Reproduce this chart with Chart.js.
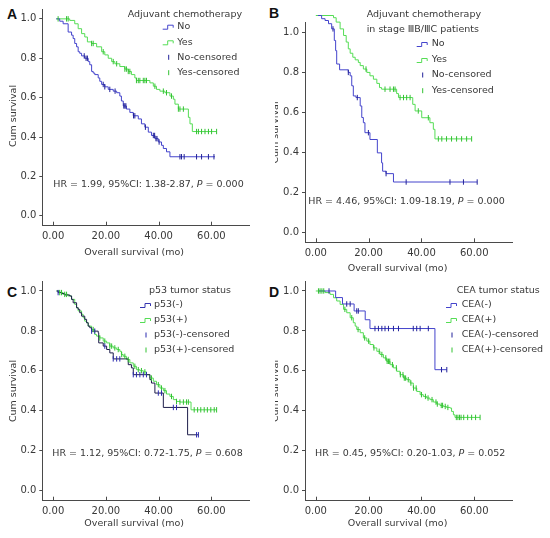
<!DOCTYPE html>
<html>
<head>
<meta charset="utf-8">
<script src="https://cdn.jsdelivr.net/npm/chart.js@4.4.1/dist/chart.umd.min.js"></script>
<style>
  body { margin: 0; width: 550px; height: 538px; overflow: hidden; position: relative; background: #fff; }
  .wrap { position: absolute; overflow: hidden; }
  .wrap canvas { position: absolute; top: 0; }
  .letter { position: absolute; font: bold 14px/14px 'Liberation Sans', Arial, sans-serif; color: #111; }
</style>
</head>
<body>
<div class="letter" style="left:7px;top:6.5px">A</div>
<div class="letter" style="left:269px;top:5.5px">B</div>
<div class="letter" style="left:7px;top:285px">C</div>
<div class="letter" style="left:269px;top:285px">D</div>
<script>
// axes
const xTicks = [0, 20, 40, 60];
const yTicks = [0, 0.2, 0.4, 0.6, 0.8, 1.0];

// A: adjuvant chemotherapy (months / cumulative survival)
const aNoTime = [1.2, 2.5, 3.8, 5.7, 7.0, 7.6, 8.2, 8.9, 9.5, 10.1, 10.8, 12.0, 13.3, 13.9, 14.6, 15.2, 15.8, 17.1, 17.7, 18.4, 19.6, 20.9, 22.8, 24.1, 25.3, 25.9, 26.6, 27.8, 29.1, 30.4, 32.3, 33.5, 34.8, 36.1, 37.3, 38.6, 39.9, 41.1, 41.8, 43.0, 44.3, 61.4];
const aNoSurv = [1, .988, .975, .933, .917, .9, .875, .858, .833, .825, .812, .8, .783, .767, .733, .725, .717, .7, .683, .667, .655, .642, .633, .625, .608, .583, .558, .542, .525, .508, .492, .467, .45, .425, .408, .392, .375, .358, .342, .325, .3, .3];
const aNoCens = [11.8, 12.5, 13.0, 19.0, 19.6, 21.5, 23.5, 26.8, 27.2, 27.6, 30.5, 31.0, 35.0, 38.0, 38.5, 39.0, 39.4, 40.2, 48.1, 48.7, 49.7, 54.4, 56.3, 58.9, 61.0];
const aYesTime = [1.2, 6.3, 8.2, 9.5, 10.8, 12.0, 13.0, 14.6, 16.5, 18.4, 19.6, 20.9, 22.2, 23.4, 25.3, 27.2, 28.5, 29.7, 31.0, 31.6, 36.7, 38.0, 39.2, 40.5, 42.4, 44.3, 45.6, 46.2, 47.5, 51.3, 51.9, 52.8, 62.0];
const aYesSurv = [1, .992, .975, .95, .925, .908, .883, .875, .858, .833, .817, .8, .783, .772, .758, .745, .733, .717, .7, .687, .675, .658, .642, .633, .625, .608, .592, .567, .542, .5, .467, .428, .428];
const aYesCens = [1.9, 5.1, 5.7, 14.6, 15.2, 19.0, 22.8, 24.1, 27.2, 27.8, 28.5, 29.1, 31.6, 32.3, 32.9, 34.2, 34.8, 35.4, 38.6, 41.8, 43.0, 44.9, 47.5, 48.1, 49.4, 54.4, 55.1, 56.3, 57.6, 58.9, 60.1, 62.0];

// B: stage IIIB/IIIC
const bNoTime = [0.8, 2.2, 3.5, 4.8, 6.0, 7.0, 7.5, 7.9, 9.0, 12.3, 13.0, 13.6, 14.2, 15.2, 16.8, 17.4, 18.0, 18.6, 20.5, 23.3, 24.9, 25.3, 26.6, 29.4, 61.1];
const bNoSurv = [1.086, 1.07, 1.061, 1.045, 1.019, .961, .91, .843, .814, .801, .784, .734, .683, .675, .633, .575, .549, .499, .465, .398, .348, .306, .294, .252, .252];
const bNoCens = [6.5, 12.3, 15.7, 19.9, 26.6, 34.2, 50.8, 55.9, 61.1];
const bYesTime = [0, 6.7, 7.7, 9.2, 10.5, 11.5, 12.3, 13.0, 14.0, 14.9, 16.1, 16.8, 18.0, 19.3, 20.5, 21.8, 23.1, 24.1, 24.9, 30.6, 31.3, 36.7, 37.6, 40.1, 43.2, 44.5, 45.1, 59.0];
const bYesSurv = [1.086, 1.075, 1.053, 1.019, .986, .953, .919, .897, .877, .864, .851, .835, .818, .801, .784, .767, .746, .725, .717, .695, .675, .641, .608, .574, .549, .516, .468, .468];
const bYesCens = [2.0, 5.4, 19.0, 26.2, 28.1, 29.4, 30.0, 31.9, 33.2, 34.4, 35.7, 38.8, 42.6, 46.4, 47.7, 49.5, 51.4, 53.3, 55.2, 57.1, 59.0];

// C: p53 tumor status
const cNegTime = [1.3, 1.9, 3.2, 4.4, 6.3, 7.0, 7.6, 8.9, 9.5, 10.1, 10.8, 12.0, 12.7, 13.3, 13.9, 14.6, 17.1, 17.3, 19.0, 20.3, 21.5, 22.8, 28.5, 29.7, 30.4, 36.7, 37.3, 38.6, 41.8, 51.0, 55.1];
const cNegSurv = [1.0, .992, .987, .98, .975, .958, .941, .916, .908, .891, .874, .858, .841, .824, .816, .799, .791, .74, .724, .707, .69, .66, .631, .615, .581, .556, .539, .489, .417, .28, .28];
const cNegCens = [1.9, 14.6, 15.8, 19.6, 22.8, 24.1, 25.3, 30.4, 31.6, 32.9, 34.2, 35.4, 39.9, 41.1, 45.6, 46.8, 54.4, 55.1];
const cPosTime = [1.3, 2.5, 3.8, 5.7, 7.0, 8.2, 8.9, 9.5, 10.8, 11.4, 12.0, 12.7, 13.3, 14.6, 15.8, 16.5, 17.7, 19.0, 20.3, 21.5, 22.8, 24.1, 25.3, 25.9, 26.6, 27.8, 29.1, 30.4, 31.6, 32.9, 34.2, 35.4, 36.7, 38.0, 39.2, 40.5, 41.8, 43.0, 44.3, 45.6, 46.8, 48.1, 52.3, 62.0];
const cPosSurv = [1.0, .992, .983, .975, .958, .933, .916, .9, .883, .866, .849, .841, .824, .807, .782, .774, .765, .749, .74, .724, .715, .707, .698, .682, .673, .657, .64, .623, .606, .601, .595, .581, .564, .548, .531, .514, .501, .484, .472, .456, .447, .444, .405, .405];
const cPosCens = [2.5, 3.2, 4.4, 5.1, 15.2, 17.7, 19.6, 21.5, 22.2, 23.4, 24.7, 26.0, 27.2, 28.5, 31.0, 32.3, 33.5, 34.8, 37.3, 39.9, 41.1, 42.4, 44.9, 46.8, 48.1, 49.4, 50.6, 51.3, 53.5, 54.8, 56.0, 57.3, 58.5, 59.8, 61.1, 62.0];

// D: CEA tumor status
const dNegTime = [1.0, 7.5, 10.1, 14.5, 18.7, 20.5, 45.1, 49.6];
const dNegSurv = [1.0, .967, .935, .9, .856, .812, .606, .606];
const dNegCens = [5.0, 11.7, 13.0, 15.5, 16.1, 22.4, 23.7, 25.0, 26.2, 27.5, 29.4, 31.3, 36.9, 38.2, 39.5, 42.6, 47.6, 49.6];
const dPosTime = [0, 3.5, 5.4, 6.7, 7.9, 9.2, 10.5, 11.7, 13.0, 14.2, 14.9, 15.5, 16.8, 18.0, 19.3, 20.5, 21.8, 23.1, 24.3, 25.6, 26.8, 28.1, 29.4, 30.6, 31.9, 33.2, 34.4, 35.7, 36.9, 38.2, 39.5, 40.7, 42.0, 43.2, 44.5, 45.8, 47.0, 48.3, 49.5, 50.8, 51.4, 52.1, 52.7, 62.2];
const dPosSurv = [1.0, .992, .983, .966, .95, .933, .908, .891, .866, .841, .824, .807, .791, .765, .749, .732, .715, .698, .682, .665, .648, .631, .615, .598, .581, .564, .556, .539, .514, .497, .481, .472, .464, .456, .444, .434, .427, .422, .417, .414, .397, .38, .367, .367];
const dPosCens = [1.0, 1.6, 2.3, 3.0, 11.0, 13.6, 16.0, 18.5, 20.0, 22.0, 24.0, 25.0, 26.5, 27.0, 27.5, 28.0, 29.0, 30.5, 32.0, 33.0, 33.5, 34.0, 35.0, 36.0, 37.0, 38.0, 40.0, 41.5, 42.5, 44.0, 45.5, 46.0, 47.5, 48.0, 49.0, 50.0, 53.2, 53.8, 54.4, 55.0, 56.0, 57.5, 59.0, 60.5, 62.2];

const FAMILY = "'DejaVu Sans', sans-serif";
const FSIZE = 9.5;
const TEXT = '#383838';
const AXIS = '#4a4a4a';
const BLUE = '#4444cc', BLUE_T = '#22229a';
const GREEN = '#55dd55', GREEN_T = '#33c233';

// absolute page positions of each panel
const panels = [
  { id: 'A', canvas: [0, 0, 275, 269], clipLeft: 0, plot: [42.3, 6, 249.3, 225.7], xTitle: [134.2, 252.5], yTitle: [13.3, 116],
    legendTitle: ['Adjuvant chemotherapy'], titleX: 127.7, titleY: [14.7], glyphX: 162.7, textX: 177.3, rows: [26.7, 42.3, 57.3, 72.7],
    labels: ['No', 'Yes', 'No-censored', 'Yes-censored'], hr: ['HR = 1.99, 95%CI: 1.38-2.87, ', ' = 0.000'], hrPos: [53.3, 184.3],
    series: [
      { t: aNoTime, s: aNoSurv, c: aNoCens, line: BLUE, tick: BLUE_T, glyph: BLUE },
      { t: aYesTime, s: aYesSurv, c: aYesCens, line: GREEN, tick: GREEN_T, glyph: GREEN }] },
  { id: 'B', canvas: [263, 0, 287, 280], clipLeft: 275, plot: [305, 22.7, 512.3, 242.3], xTitle: [397.5, 269], yTitle: [276, 132.5],
    legendTitle: ['Adjuvant chemotherapy', 'in stage \u2162B/\u2162C patients'], titleX: 366.7, titleY: [14.7, 29.3], glyphX: 416.7, textX: 431.7, rows: [44, 60, 75, 90.7],
    labels: ['No', 'Yes', 'No-censored', 'Yes-censored'], hr: ['HR = 4.46, 95%CI: 1.09-18.19, ', ' = 0.000'], hrPos: [308.3, 201.7],
    series: [
      { t: bNoTime, s: bNoSurv, c: bNoCens, line: BLUE, tick: BLUE_T, glyph: BLUE },
      { t: bYesTime, s: bYesSurv, c: bYesCens, line: GREEN, tick: GREEN_T, glyph: GREEN }] },
  { id: 'C', canvas: [0, 269, 275, 269], clipLeft: 0, plot: [42.3, 281, 249.3, 500.7], xTitle: [134.2, 523.7], yTitle: [13.3, 391],
    legendTitle: ['p53 tumor status'], titleX: 149, titleY: [291], glyphX: 140, textX: 154, rows: [305, 320, 335, 350],
    labels: ['p53(-)', 'p53(+)', 'p53(-)-censored', 'p53(+)-censored'], hr: ['HR = 1.12, 95%CI: 0.72-1.75, ', ' = 0.608'], hrPos: [52.3, 453.3],
    series: [
      { t: cNegTime, s: cNegSurv, c: cNegCens, line: '#1d1d4a', tick: '#2b2bb0', glyph: '#3535b0' },
      { t: cPosTime, s: cPosSurv, c: cPosCens, line: GREEN, tick: GREEN_T, glyph: GREEN }] },
  { id: 'D', canvas: [263, 269, 287, 269], clipLeft: 275, plot: [305, 281, 512.3, 500.7], xTitle: [397.5, 523.7], yTitle: [276, 391],
    legendTitle: ['CEA tumor status'], titleX: 456.7, titleY: [291], glyphX: 446, textX: 461.7, rows: [305, 320, 335, 350],
    labels: ['CEA(-)', 'CEA(+)', 'CEA(-)-censored', 'CEA(+)-censored'], hr: ['HR = 0.45, 95%CI: 0.20-1.03, ', ' = 0.052'], hrPos: [315, 453.3],
    series: [
      { t: dNegTime, s: dNegSurv, c: dNegCens, line: BLUE, tick: BLUE_T, glyph: BLUE },
      { t: dPosTime, s: dPosSurv, c: dPosCens, line: GREEN, tick: GREEN_T, glyph: GREEN }] }
];

// survival value of a step curve at time x
function survAt(t, s, x) {
  let v = s[0];
  for (let i = 0; i < t.length; i++) if (t[i] <= x) v = s[i];
  return v;
}

const annotate = {
  id: 'annotate',
  afterDraw(chart, args, opts) {
    const P = opts.panel;
    const ctx = chart.ctx;
    const ox = P.canvas[0], oy = P.canvas[1];
    const bottom = chart.chartArea.bottom;
    const xs = chart.scales.x;
    ctx.save();
    // x ticks point into the plot
    ctx.strokeStyle = AXIS;
    ctx.lineWidth = 1;
    xTicks.forEach(v => {
      const px = Math.round(xs.getPixelForValue(v)) + 0.5;
      ctx.beginPath();
      ctx.moveTo(px, bottom);
      ctx.lineTo(px, bottom - 4);
      ctx.stroke();
    });
    const font = FSIZE + 'px ' + FAMILY;
    ctx.font = font;
    ctx.fillStyle = TEXT;
    ctx.textBaseline = 'middle';
    ctx.textAlign = 'center';
    ctx.fillText('Overall survival (mo)', P.xTitle[0] - ox, P.xTitle[1] - oy);
    ctx.save();
    ctx.translate(P.yTitle[0] - ox, P.yTitle[1] - oy);
    ctx.rotate(-Math.PI / 2);
    ctx.fillText('Cum survival', 0, 0);
    ctx.restore();
    ctx.textAlign = 'left';
    // legend
    P.legendTitle.forEach((s, i) => ctx.fillText(s, P.titleX - ox, P.titleY[i] - oy));
    P.labels.forEach((s, i) => ctx.fillText(s, P.textX - ox, P.rows[i] - oy));
    P.series.forEach((ser, i) => {
      const gx = P.glyphX - ox, gy = P.rows[i] - oy;
      ctx.strokeStyle = ser.glyph;
      ctx.beginPath();
      ctx.moveTo(gx, gy + 2.5);
      ctx.lineTo(gx + 5, gy + 2.5);
      ctx.lineTo(gx + 5, gy - 1.5);
      ctx.lineTo(gx + 10.5, gy - 1.5);
      ctx.lineTo(gx + 10.5, gy + 1);
      ctx.stroke();
      const cy = P.rows[i + 2] - oy;
      ctx.strokeStyle = ser.tick;
      ctx.beginPath();
      ctx.moveTo(gx + 6, cy - 2.5);
      ctx.lineTo(gx + 6, cy + 2.5);
      ctx.stroke();
    });
    // hazard ratio note, P in italics
    let hx = P.hrPos[0] - ox;
    const hy = P.hrPos[1] - oy;
    ctx.fillStyle = TEXT;
    ctx.fillText(P.hr[0], hx, hy);
    hx += ctx.measureText(P.hr[0]).width;
    ctx.font = 'italic ' + font;
    ctx.fillText('P', hx, hy);
    hx += ctx.measureText('P').width;
    ctx.font = font;
    ctx.fillText(P.hr[1], hx, hy);
    ctx.restore();
  }
};

panels.forEach(P => {
  const [cx, cy, cw, ch] = P.canvas;
  const wrapLeft = Math.max(cx, P.clipLeft);
  const wrap = document.createElement('div');
  wrap.className = 'wrap';
  wrap.style.left = wrapLeft + 'px';
  wrap.style.top = cy + 'px';
  wrap.style.width = (cx + cw - wrapLeft) + 'px';
  wrap.style.height = ch + 'px';
  const canvas = document.createElement('canvas');
  canvas.width = cw;
  canvas.height = ch;
  canvas.style.left = (cx - wrapLeft) + 'px';
  wrap.appendChild(canvas);
  document.body.appendChild(wrap);

  const datasets = [];
  P.series.forEach(ser => {
    datasets.push({
      type: 'scatter',
      data: ser.c.map(x => ({ x: x, y: survAt(ser.t, ser.s, x) })),
      pointStyle: 'line', pointRotation: 90, pointRadius: 2.7,
      pointBorderColor: ser.tick, pointBorderWidth: 1, clip: false
    });
  });
  P.series.forEach(ser => {
    datasets.push({
      type: 'line',
      data: ser.t.map((x, i) => ({ x: x, y: ser.s[i] })),
      borderColor: ser.line, borderWidth: 1, stepped: 'before',
      pointRadius: 0, fill: false, clip: false
    });
  });

  const tickFont = { family: FAMILY, size: 10 };
  new Chart(canvas, {
    type: 'line',
    data: { datasets: datasets },
    options: {
      responsive: false,
      animation: false,
      devicePixelRatio: 1,
      events: [],
      layout: { padding: { left: 0, top: P.plot[1] - cy, right: cx + cw - P.plot[2], bottom: 0 } },
      plugins: { legend: { display: false }, tooltip: { enabled: false }, annotate: { panel: P } },
      scales: {
        x: {
          type: 'linear', min: -4.1, max: 74.4,
          afterFit: s => { s.height = cy + ch - P.plot[3]; },
          afterBuildTicks: s => { s.ticks = xTicks.map(v => ({ value: v })); },
          ticks: { callback: v => Number(v).toFixed(2), font: tickFont, color: TEXT, padding: 5, maxRotation: 0, autoSkip: false },
          grid: { drawOnChartArea: false, drawTicks: false },
          border: { color: AXIS, width: 1 }
        },
        y: {
          type: 'linear', min: -0.05, max: 1.05,
          afterFit: s => { s.width = P.plot[0] - cx; },
          afterBuildTicks: s => { s.ticks = yTicks.map(v => ({ value: v })); },
          ticks: { callback: v => Number(v).toFixed(1), font: tickFont, color: TEXT, padding: 3 },
          grid: { drawOnChartArea: false, drawTicks: true, tickLength: 3, color: AXIS },
          border: { color: AXIS, width: 1 }
        }
      }
    },
    plugins: [annotate]
  });
});
</script>
</body>
</html>
